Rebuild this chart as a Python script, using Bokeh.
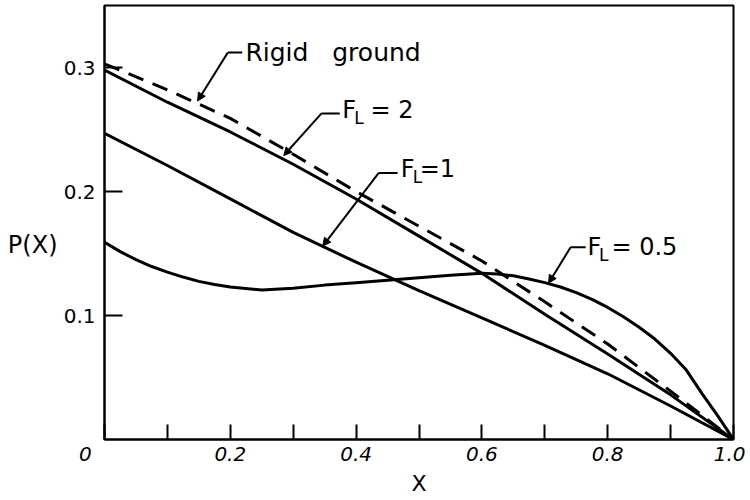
from bokeh.plotting import figure
from bokeh.models import (Label, Arrow, NormalHead, FixedTicker, PrintfTickFormatter, Range1d,
                          LinearAxis)
from bokeh.embed import file_html
from bokeh.resources import INLINE

# ---- data ----
x_coarse = [0.0, 0.1, 0.2, 0.3, 0.4, 0.5, 0.6, 0.7, 0.8, 0.9, 1.0]
p_rigid = [0.303, 0.282, 0.259, 0.230, 0.200, 0.172, 0.144, 0.111, 0.077, 0.039, 0.0]
p_fl2 = [0.298, 0.272, 0.248, 0.222, 0.194, 0.164, 0.134, 0.101, 0.069, 0.036, 0.0]
p_fl1 = [0.247, 0.221, 0.194, 0.167, 0.143, 0.120, 0.098, 0.076, 0.053, 0.027, 0.0]

x_fine = [0.0, 0.025, 0.05, 0.075, 0.1, 0.125, 0.15, 0.175, 0.2, 0.25, 0.3, 0.35, 0.4,
          0.45, 0.5, 0.55, 0.6, 0.625, 0.65, 0.675, 0.7, 0.725, 0.75, 0.775, 0.8,
          0.825, 0.85, 0.875, 0.9, 0.925, 0.95, 0.975, 1.0]
p_fl05 = [0.159, 0.1515, 0.145, 0.1395, 0.135, 0.131, 0.1275, 0.125, 0.123, 0.1205, 0.122,
          0.1245, 0.1265, 0.1285, 0.1305, 0.1325, 0.134, 0.1335, 0.132, 0.1295, 0.1265,
          0.123, 0.1185, 0.113, 0.1065, 0.099, 0.0905, 0.081, 0.0695, 0.056, 0.037,
          0.019, 0.0]

x_major = [0.0, 0.2, 0.4, 0.6, 0.8, 1.0]
x_minor = [0.1, 0.3, 0.5, 0.7, 0.9]
y_major = [0.1, 0.2, 0.3]

FONT = "DejaVu Sans"
NB = "\u00a0"

p = figure(width=745, height=500, output_backend="svg", toolbar_location=None,
           x_range=Range1d(0, 1), y_range=Range1d(0, 0.35),
           min_border_left=104, min_border_right=12, min_border_top=5, min_border_bottom=61)
p.background_fill_color = "white"
p.border_fill_color = "white"
p.grid.visible = False
p.outline_line_color = "black"
p.outline_line_width = 2

# x axis
xa = p.xaxis[0]
xa.ticker = FixedTicker(ticks=x_major, minor_ticks=x_minor)
xa.formatter = PrintfTickFormatter(format="%.1f")
xa.major_label_overrides = {0.0: "0" + NB * 6}
xa.major_tick_in = 15
xa.major_tick_out = 0
xa.minor_tick_in = 15
xa.minor_tick_out = 0
xa.major_tick_line_width = 2
xa.minor_tick_line_width = 2
xa.axis_line_width = 2
xa.major_label_text_font = FONT
xa.major_label_text_font_size = "20px"
xa.major_label_text_font_style = "italic"
xa.major_label_text_color = "black"
xa.major_label_standoff = 2

# y axis
ya = p.yaxis[0]
ya.ticker = FixedTicker(ticks=y_major, minor_ticks=[])
ya.formatter = PrintfTickFormatter(format="%.1f")
ya.major_tick_in = 18
ya.major_tick_out = 0
ya.minor_tick_in = 0
ya.minor_tick_out = 0
ya.major_tick_line_width = 2
ya.axis_line_width = 2
ya.major_label_text_font = FONT
ya.major_label_text_font_size = "20px"
ya.major_label_text_color = "black"
ya.major_label_standoff = 9

# axis titles placed as single tick labels of bare axes
def bare_axis(tick, text, size, standoff):
    ax = LinearAxis(ticker=FixedTicker(ticks=[tick], minor_ticks=[]),
                    major_label_overrides={tick: text})
    ax.axis_line_color = None
    ax.major_tick_line_color = None
    ax.minor_tick_line_color = None
    ax.major_tick_in = 0
    ax.major_tick_out = 0
    ax.minor_tick_in = 0
    ax.minor_tick_out = 0
    ax.major_label_text_font = FONT
    ax.major_label_text_font_size = size
    ax.major_label_text_color = "black"
    ax.major_label_standoff = standoff
    return ax

p.add_layout(bare_axis(0.157, "P(X)", "24px", 3), "left")
p.add_layout(bare_axis(0.5, "X", "22px", 2), "below")

# curves
p.line(x_coarse, p_rigid, line_color="black", line_width=3, line_dash="16 10")
p.line(x_coarse, p_fl2, line_color="black", line_width=3)
p.line(x_coarse, p_fl1, line_color="black", line_width=3)
p.line(x_fine, p_fl05, line_color="black", line_width=3)

def lbl(text, x, y, size="24px", align="left"):
    p.add_layout(Label(x=x, y=y, text=text, text_font=FONT, text_font_size=size,
                       text_align=align, text_baseline="middle", text_color="black"))

def leader(xs, ys, tip):
    p.line(xs, ys, line_color="black", line_width=2)
    p.add_layout(Arrow(x_start=xs[-1], y_start=ys[-1], x_end=tip[0], y_end=tip[1],
                       line_color="black", line_width=2,
                       end=NormalHead(size=8, fill_color="black", line_color="black")))

# annotations
lbl("Rigid" + NB * 3 + "ground", 0.224, 0.312, size="25px")
leader([0.219, 0.196], [0.312, 0.312], (0.148, 0.273))

lbl("F", 0.378, 0.266)
lbl("L", 0.397, 0.2595, size="17px")
lbl("= 2", 0.423, 0.266)
leader([0.374, 0.345], [0.263, 0.263], (0.285, 0.229))

lbl("F", 0.471, 0.2185)
lbl("L", 0.490, 0.212, size="17px")
lbl("=1", 0.501, 0.2185)
leader([0.466, 0.436], [0.215, 0.215], (0.347, 0.156))

lbl("F", 0.768, 0.1556)
lbl("L", 0.786, 0.149, size="17px")
lbl("= 0.5", 0.806, 0.1556)
leader([0.765, 0.741], [0.155, 0.155], (0.706, 0.126))

open("out.html", "w").write(file_html(p, INLINE))
